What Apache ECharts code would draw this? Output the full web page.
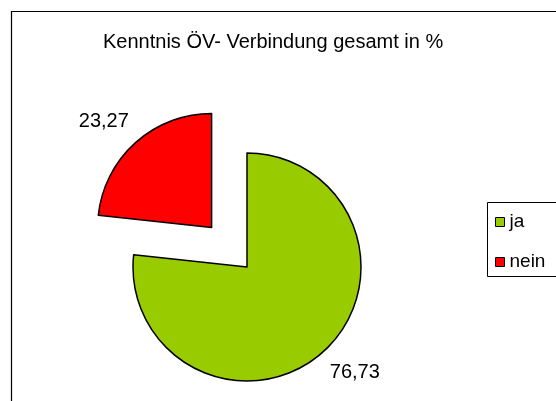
<!DOCTYPE html>
<html>
<head>
<meta charset="utf-8">
<script src="https://cdn.jsdelivr.net/npm/echarts@6/dist/echarts.min.js"></script>
<style>
  html, body { margin: 0; padding: 0; background: #fff; }
  #chart { width: 556px; height: 401px; }
</style>
</head>
<body>
<div id="chart"></div>
<script>
// Daten
var kategorien = ['ja', 'nein'];
var werte = [76.73, 23.27];
var farben = ['#99CC00', '#FF0000'];
var herausgezogen = [false, true];

var myChart = echarts.init(document.getElementById('chart'));

var daten = kategorien.map(function (name, i) {
    return {
        name: name,
        value: werte[i],
        selected: herausgezogen[i],
        itemStyle: { color: farben[i] }
    };
});

var option = {
    backgroundColor: '#fff',
    animation: false,
    textStyle: { fontFamily: 'Liberation Sans, Arial, sans-serif' },
    title: {
        text: 'Kenntnis ÖV- Verbindung gesamt in %',
        left: 98,
        top: 27,
        textStyle: { fontSize: 20, fontWeight: 'normal', color: '#000' }
    },
    // Rahmen um das Diagramm und um die Legende (rechts abgeschnitten)
    graphic: [{
        type: 'rect',
        shape: { x: 11.5, y: 11.5, width: 700, height: 500 },
        style: { fill: 'none', stroke: '#000', lineWidth: 1.2 },
        silent: true
    }, {
        type: 'rect',
        shape: { x: 487.5, y: 202.5, width: 200, height: 74 },
        style: { fill: 'none', stroke: '#000', lineWidth: 1 },
        silent: true
    }],
    legend: {
        orient: 'vertical',
        left: 487,
        top: 202,
        padding: [10, 10, 5, 8],
        itemGap: 20,
        itemWidth: 9,
        itemHeight: 9,
        icon: 'rect',
        data: kategorien,
        itemStyle: { borderColor: '#000', borderWidth: 1 },
        textStyle: { fontSize: 19, color: '#000', lineHeight: 20 },
        selectedMode: false
    },
    series: [{
        name: 'Kenntnis',
        type: 'pie',
        center: [247, 267],
        radius: 114,
        startAngle: 90,
        clockwise: true,
        selectedMode: 'multiple',
        selectedOffset: 53,
        avoidLabelOverlap: false,
        itemStyle: { borderColor: '#000', borderWidth: 1.5 },
        label: {
            show: true,
            position: 'outside',
            fontSize: 20,
            color: '#000',
            formatter: function (p) {
                return p.value.toFixed(2).replace('.', ',');
            }
        },
        labelLine: { show: false, length: 28, length2: 8 },
        labelLayout: { align: 'center' },
        emphasis: { disabled: true },
        data: daten
    }]
};

myChart.setOption(option);
</script>
</body>
</html>
